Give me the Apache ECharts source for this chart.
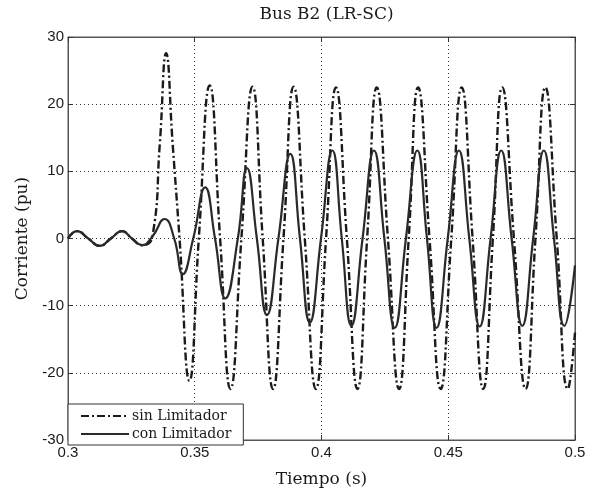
<!DOCTYPE html>
<html>
<head>
<meta charset="utf-8">
<script src="https://cdn.jsdelivr.net/npm/echarts@6/dist/echarts.min.js"></script>
<style>html,body{margin:0;padding:0;background:#fff;}#c{width:595px;height:493px;}</style>
</head>
<body>
<div id="c"></div>
<script>
// ---- data ----
const titleText = 'Bus B2 (LR-SC)';
const xName = 'Tiempo (s)';
const yName = 'Corriente (pu)';
const seriesNames = ['sin Limitador', 'con Limitador'];
const xTicks = [0.3, 0.35, 0.4, 0.45, 0.5];
const yTicks = [-30, -20, -10, 0, 10, 20, 30];

// sin Limitador (dash-dot)
const tSin = [0.3000,0.3036,0.3080,0.3125,0.3169,0.3213,0.3252,0.3292,0.3333,0.3362,0.3387,0.3413,0.3440,0.3479,0.3516,
  0.3559,0.3600,0.3641,0.3684,0.3728,0.3768,0.3809,0.3850,0.3890,0.3934,0.3978,0.4018,0.4057,0.4100,0.4142,0.4180,
  0.4218,0.4262,0.4306,0.4344,0.4381,0.4426,0.4470,0.4512,0.4553,0.4596,0.4638,0.4676,0.4713,0.4759,0.4805,0.4844,
  0.4883,0.4928,0.4972,0.5000];
const vSin = [0.0,1.1,0.0,-1.1,0.0,1.1,0.0,-1.0,0.3,14.0,27.6,14.0,0.0,-21.2,0.0,
  22.8,0.0,-22.4,0.0,22.6,0.0,-22.4,0.0,22.6,0.0,-22.4,0.0,22.5,0.0,-22.4,0.0,
  22.5,0.0,-22.4,0.0,22.5,0.0,-22.4,0.0,22.5,0.0,-22.4,0.0,22.5,0.0,-22.4,0.0,
  22.5,0.0,-22.4,-14.0];

// con Limitador (solid)
const tCon = [0.3000,0.3036,0.3080,0.3125,0.3169,0.3213,0.3252,0.3292,0.3333,0.3381,0.3419,0.3453,0.3494,
  0.3541,0.3580,0.3621,0.3670,0.3706,0.3745,0.3785,0.3830,0.3877,0.3915,0.3954,0.3998,0.4043,0.4080,0.4118,0.4162,
  0.4207,0.4248,0.4289,0.4333,0.4378,0.4416,0.4454,0.4498,0.4542,0.4583,0.4624,0.4667,0.4709,0.4750,0.4792,0.4835,
  0.4877,0.4917,0.4958,0.5000];
const vCon = [0.0,1.1,0.0,-1.1,0.0,1.1,0.0,-1.0,0.3,2.9,0.0,-5.3,0.0,
  7.6,0.0,-8.9,0.0,10.5,0.0,-11.4,0.0,12.6,0.0,-12.5,0.0,13.1,0.0,-13.0,0.0,
  13.1,0.0,-13.3,0.0,13.1,0.0,-13.3,0.0,13.1,0.0,-13.1,0.0,13.1,0.0,-13.0,0.0,
  13.1,0.0,-13.0,-4.0];

// ---- chart ----
const pair = (t, v) => t.map((x, i) => [x, v[i]]);
const serif = 'DejaVu Serif';
const tickFont = 'Liberation Sans';
const ink = '#1a1a1a';

function measure(text, font) {
  const c = document.createElement('canvas').getContext('2d');
  c.font = font; return c.measureText(text).width;
}
const gridL = 68, gridR = 20, gridT = 37, gridB = 48;
const plotCx = gridL + (595 - gridL - gridR) / 2;
const titleSize = 17;
const titleW = measure(titleText, titleSize + 'px "' + serif + '"');

const chart = echarts.init(document.getElementById('c'), null, {renderer: 'canvas'});
const xCommon = {type: 'value', min: xTicks[0], max: xTicks[xTicks.length - 1], interval: 0.05};
const yCommon = {type: 'value', min: yTicks[0], max: yTicks[yTicks.length - 1], interval: 10};
const tickStyle = {show: true, inside: true, length: 5, lineStyle: {color: '#333'}};
const gridDots = {show: true, lineStyle: {color: '#333', type: [1, 3], width: 1}};
chart.setOption({
  animation: false,
  backgroundColor: '#fff',
  title: {
    text: titleText, left: plotCx - titleW / 2, top: 1,
    textStyle: {fontFamily: serif, fontSize: titleSize, fontWeight: 'normal', color: ink}
  },
  grid: {left: gridL, right: gridR, top: gridT, bottom: gridB, show: true, borderColor: '#555', borderWidth: 1, backgroundColor: '#fff'},
  legend: {
    orient: 'vertical', left: gridL, bottom: gridB,
    data: seriesNames,
    itemWidth: 48, itemHeight: 14, itemGap: 4,
    padding: [5, 12, 4, 12],
    borderColor: '#333', borderWidth: 1, backgroundColor: '#fff',
    itemStyle: {opacity: 0},
    textStyle: {fontFamily: serif, fontSize: 14, color: ink, padding: [0, 0, 0, -2]}
  },
  xAxis: [
    Object.assign({}, xCommon, {
      position: 'bottom',
      name: xName, nameLocation: 'middle', nameGap: 31,
      nameTextStyle: {fontFamily: serif, fontSize: 17, color: ink},
      axisLine: {show: true, onZero: false, lineStyle: {color: '#555'}},
      axisTick: tickStyle,
      axisLabel: {fontFamily: tickFont, fontSize: 15, color: ink, margin: 5,
        formatter: v => String(Math.round(v * 100) / 100)},
      splitLine: gridDots
    }),
    Object.assign({}, xCommon, {
      position: 'top', axisLine: {show: true, onZero: false, lineStyle: {color: '#555'}},
      axisTick: tickStyle, axisLabel: {show: false}, splitLine: {show: false}
    })
  ],
  yAxis: [
    Object.assign({}, yCommon, {
      position: 'left',
      name: yName, nameLocation: 'middle', nameGap: 37, nameRotate: 90,
      nameTextStyle: {fontFamily: serif, fontSize: 17, color: ink},
      axisLine: {show: true, onZero: false, lineStyle: {color: '#555'}},
      axisTick: tickStyle,
      axisLabel: {fontFamily: tickFont, fontSize: 15, color: ink, margin: 4},
      splitLine: gridDots
    }),
    Object.assign({}, yCommon, {
      position: 'right', axisLine: {show: true, onZero: false, lineStyle: {color: '#555'}},
      axisTick: tickStyle, axisLabel: {show: false}, splitLine: {show: false}
    })
  ],
  series: [
    {
      name: seriesNames[0], type: 'line', xAxisIndex: 0, yAxisIndex: 0,
      data: pair(tSin, vSin), showSymbol: false, symbol: 'none', smooth: 0.5,
      lineStyle: {color: '#1a1a1a', width: 2.4, type: [8, 3, 2, 3]},
      itemStyle: {color: '#1a1a1a'}, z: 3
    },
    {
      name: seriesNames[1], type: 'line', xAxisIndex: 0, yAxisIndex: 0,
      data: pair(tCon, vCon), showSymbol: false, symbol: 'none', smooth: 0.5,
      lineStyle: {color: '#2a2a2a', width: 2.2, type: 'solid'},
      itemStyle: {color: '#2a2a2a'}, z: 4
    }
  ]
});
</script>
</body>
</html>
